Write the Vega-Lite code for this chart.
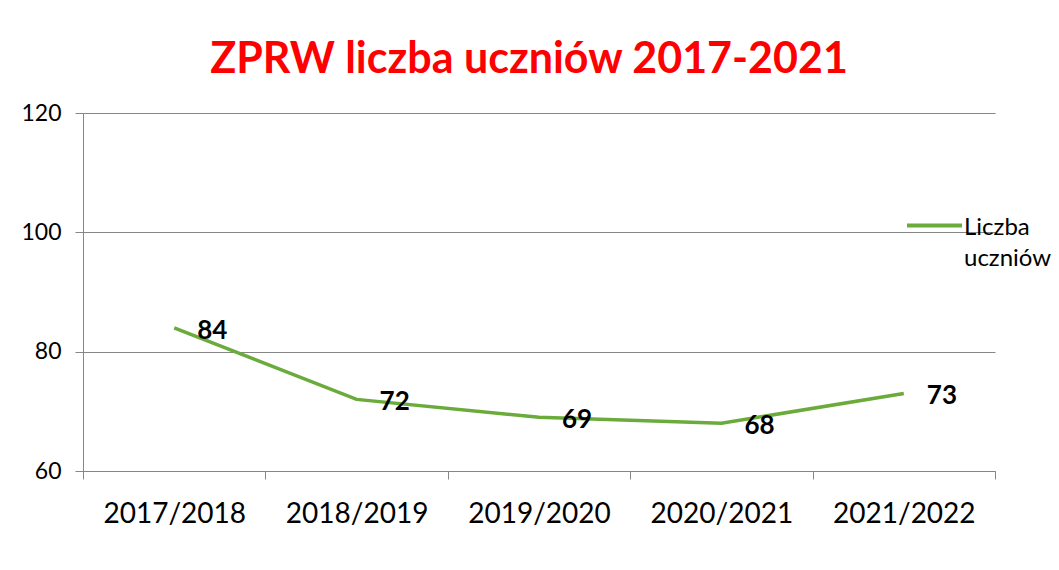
{
  "$schema": "https://vega.github.io/schema/vega-lite/v6.json",
  "width": 912,
  "height": 358,
  "autosize": {"type": "none"},
  "padding": {"left": 83, "top": 113, "right": 64, "bottom": 99},
  "background": "white",
  "title": {
    "text": "ZPRW liczba uczniów 2017-2021",
    "color": "#FF0000",
    "font": "Lato",
    "fontWeight": "bold",
    "fontSize": 43,
    "anchor": "middle",
    "dx": -10,
    "offset": 20
  },
  "data": {
    "values": [
      {"rok": "2017/2018", "liczba": 84, "seria": "Liczba uczniów"},
      {"rok": "2018/2019", "liczba": 72, "seria": "Liczba uczniów"},
      {"rok": "2019/2020", "liczba": 69, "seria": "Liczba uczniów"},
      {"rok": "2020/2021", "liczba": 68, "seria": "Liczba uczniów"},
      {"rok": "2021/2022", "liczba": 73, "seria": "Liczba uczniów"}
    ]
  },
  "encoding": {
    "x": {
      "field": "rok",
      "type": "ordinal",
      "sort": null,
      "scale": {"type": "band", "paddingInner": 0, "paddingOuter": 0},
      "axis": {
        "title": null,
        "labelAngle": 0,
        "labelFont": "Lato",
        "labelFontSize": 28,
        "labelColor": "#000000",
        "labelPadding": 21,
        "tickBand": "extent",
        "tickSize": 8,
        "tickColor": "#868686",
        "domainColor": "#868686",
        "grid": false
      }
    },
    "y": {
      "field": "liczba",
      "type": "quantitative",
      "scale": {"domain": [60, 120], "nice": false, "zero": false},
      "axis": {
        "title": null,
        "values": [60, 80, 100, 120],
        "labelFont": "Lato",
        "labelFontSize": 23,
        "labelColor": "#000000",
        "labelPadding": 14,
        "tickSize": 8,
        "tickColor": "#868686",
        "domainColor": "#868686",
        "gridColor": "#868686",
        "grid": true
      }
    }
  },
  "layer": [
    {
      "mark": {"type": "line", "strokeWidth": 3.5, "color": "#6AAB3C"},
      "encoding": {
        "color": {
          "field": "seria",
          "type": "nominal",
          "scale": {"range": ["#6AAB3C"]},
          "legend": {
            "title": null,
            "orient": "none",
            "legendX": 822,
            "legendY": 83,
            "symbolType": "stroke",
            "symbolSize": 3025,
            "symbolStrokeWidth": 4,
            "labelFont": "Lato",
            "labelFontSize": 24,
            "labelColor": "#000000",
            "labelOffset": 0,
            "labelBaseline": "alphabetic",
            "labelExpr": "['Liczba', 'uczniów']",
            "labelLimit": 200,
            "encode": {"labels": {"update": {"dy": {"value": 9}}}}
          }
        }
      }
    },
    {
      "mark": {
        "type": "text",
        "align": "left",
        "baseline": "middle",
        "dx": 23,
        "dy": 3,
        "font": "Lato",
        "fontWeight": "bold",
        "fontSize": 26,
        "color": "#000000"
      },
      "encoding": {"text": {"field": "liczba", "type": "quantitative"}}
    }
  ],
  "config": {
    "view": {"stroke": null},
    "style": {"guide-label": {"lineHeight": 31}}
  }
}
